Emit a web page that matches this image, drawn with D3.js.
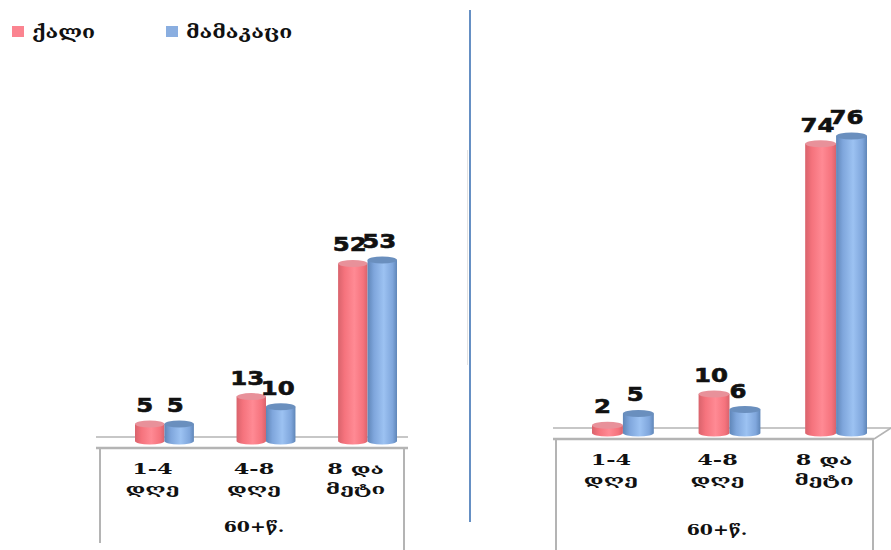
<!DOCTYPE html>
<html><head><meta charset="utf-8">
<style>
html,body{margin:0;padding:0;background:#fff}
svg{display:block}
text{fill:#111}
.cat{font-family:"DejaVu Serif","DejaVu Sans";font-weight:700;font-size:14px;text-anchor:middle}
.val{font-family:"DejaVu Sans";font-weight:700;font-size:20px;text-anchor:middle;stroke:#111;stroke-width:.6px}
.leg{font-family:"DejaVu Serif","DejaVu Sans";font-weight:700;font-size:17px}
</style></head><body>
<script src="https://cdn.jsdelivr.net/npm/d3@7"></script>
<script>
const seriesNames = ["ქალი", "მამაკაცი"];
const categoryLines = [["1-4", "დღე"], ["4-8", "დღე"], ["8  და", "მეტი"]];
const axisTitle = "60+წ.";
const leftFemale = [5, 13, 52];
const leftMale = [5, 10, 53];
const rightFemale = [2, 10, 74];
const rightMale = [5, 6, 76];

const W = 891, H = 550;
const svg = d3.select("body").append("svg").attr("width", W).attr("height", H);
const defs = svg.append("defs");

// The labels use a wide, stretched lettering: widen each text by a factor of its natural length.
function stretch(sel, factor) {
  sel.each(function () {
    const len = this.getComputedTextLength();
    d3.select(this).attr("textLength", len * factor).attr("lengthAdjust", "spacingAndGlyphs");
  });
  return sel;
}

// Horizontal gradients give the columns their rounded, cylindrical look.
function cylinder(id, edge, mid, light) {
  const g = defs.append("linearGradient").attr("id", id);
  [[0, edge], [.22, mid], [.55, light], [.85, mid], [1, edge]].forEach(([o, c]) =>
    g.append("stop").attr("offset", o).attr("stop-color", c));
}
cylinder("pinkBody", "#d9636c", "#f5737d", "#ff8a94");
cylinder("blueBody", "#5f86b8", "#7fa6dc", "#9cc2f2");
const palette = [
  {body: "url(#pinkBody)", cap: "#e8919a"},
  {body: "url(#blueBody)", cap: "#6a8fbe"}
];

function panel(cfg) {
  const g = svg.append("g");
  const x = d3.scaleBand().domain(d3.range(3)).range(cfg.xRange).paddingInner(cfg.gap).paddingOuter(0);
  const inner = d3.scaleBand().domain([0, 1]).range([0, x.bandwidth()]);
  const y = d3.scaleLinear().domain([0, cfg.maxValue]).range([cfg.base, cfg.topY]);
  const grey = "#b4b4b4";

  // Floor of the 3D plot and the frame below it
  g.append("line").attr("x1", cfg.floor[0]).attr("x2", cfg.floor[1]).attr("y1", cfg.backY).attr("y2", cfg.backY)
    .attr("stroke", grey).attr("stroke-width", 1.5);
  g.append("line").attr("x1", cfg.floor[0]).attr("x2", cfg.frontEnd).attr("y1", cfg.frontY).attr("y2", cfg.frontY)
    .attr("stroke", grey).attr("stroke-width", 2.5);
  if (cfg.corner) g.append("line").attr("x1", cfg.frontEnd).attr("x2", cfg.floor[1]).attr("y1", cfg.frontY).attr("y2", cfg.backY)
    .attr("stroke", grey).attr("stroke-width", 1.5);
  cfg.frame.forEach(([fx, fy]) =>
    g.append("line").attr("x1", fx).attr("x2", fx).attr("y1", cfg.frontY).attr("y2", fy)
      .attr("stroke", grey).attr("stroke-width", 2));

  [cfg.female, cfg.male].forEach((vals, s) => {
    const cols = g.append("g").selectAll("g").data(vals).join("g")
      .attr("transform", (d, i) => `translate(${x(i) + inner(s)},0)`);
    const w = inner.bandwidth(), rx = w / 2, ry = 3.5;
    cols.append("path")
      .attr("d", d => `M0,${y(d)}V${cfg.base}A${rx},${ry} 0 0 0 ${w},${cfg.base}V${y(d)}Z`)
      .attr("fill", palette[s].body);
    cols.append("ellipse").attr("cx", rx).attr("cy", d => y(d)).attr("rx", rx).attr("ry", ry)
      .attr("fill", palette[s].cap);
  });

  // Value labels, with per-label nudges where neighbours crowd each other
  [cfg.female, cfg.male].forEach((vals, s) => {
    g.append("g").selectAll("text").data(vals).join("text").attr("class", "val")
      .attr("x", (d, i) => x(i) + inner(s) + inner.bandwidth() / 2 + cfg.nudge[s][i])
      .attr("y", d => y(d) - 12)
      .attr("textLength", d => String(d).length * 17)
      .attr("lengthAdjust", "spacingAndGlyphs")
      .text(d => d);
  });

  // Category labels on two lines, sitting left of the band centres
  categoryLines.forEach((lines, i) => {
    lines.forEach((t, k) => {
      g.append("text").attr("class", "cat")
        .attr("x", x(i) + x.bandwidth() / 2 + cfg.catShift)
        .attr("y", cfg.frontY + 26 + k * 19.5)
        .text(t)
        .call(stretch, 1.6);
    });
  });
  g.append("text").attr("class", "cat").attr("x", cfg.titleX).attr("y", cfg.titleY).text(axisTitle).call(stretch, 1.35);
}

panel({
  female: leftFemale, male: leftMale, maxValue: 53,
  xRange: [135, 397], gap: 0.42, base: 441, topY: 260,
  floor: [96, 408], frontEnd: 408, backY: 437, frontY: 448,
  frame: [[100, 543], [404, 550]], catShift: -12,
  nudge: [[-5, -4, -3], [-4, -3, -3]],
  titleX: 254, titleY: 532
});
panel({
  female: rightFemale, male: rightMale, maxValue: 76,
  xRange: [592, 867], gap: 0.42, base: 433, topY: 136,
  floor: [553, 891], frontEnd: 874, backY: 428, frontY: 439,
  corner: true,
  frame: [[556, 550], [873, 550]], catShift: -12,
  nudge: [[-5, -3, -3], [-3, -7, -5]],
  titleX: 717, titleY: 535
});

// Divider between the two panels
svg.append("line").attr("x1", 470).attr("x2", 470).attr("y1", 10).attr("y2", 522)
  .attr("stroke", "#3f74b5").attr("stroke-width", 1.6);
svg.append("line").attr("x1", 467.5).attr("x2", 467.5).attr("y1", 150).attr("y2", 365)
  .attr("stroke", "#e2e2e2").attr("stroke-width", 1);

// Legend
const legendX = [12, 166], legendColors = ["#fb8490", "#8aaee0"];
seriesNames.forEach((name, i) => {
  svg.append("rect").attr("x", legendX[i]).attr("y", 26).attr("width", 12).attr("height", 11).attr("fill", legendColors[i]);
  svg.append("text").attr("class", "leg").attr("x", legendX[i] + 20).attr("y", 38).text(name).call(stretch, 1.25);
});
</script>
</body></html>
